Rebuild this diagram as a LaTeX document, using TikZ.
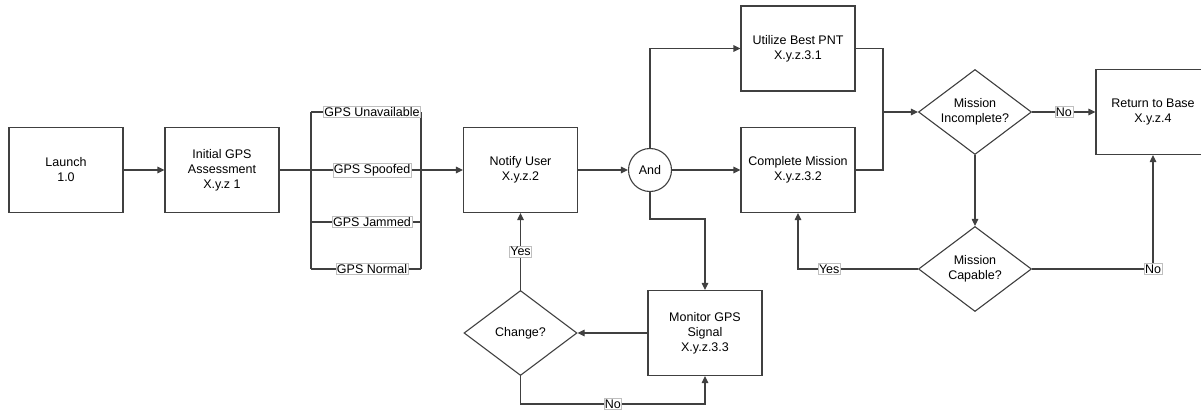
\documentclass[tikz,border=0pt]{standalone}
\usepackage{fontspec}
\setmainfont{Liberation Sans}
\usetikzlibrary{arrows.meta,shapes.geometric}
\begin{document}
\begin{tikzpicture}[x=1pt,y=-1pt,
 font=\fontsize{12.5}{15}\selectfont,
 line/.style={draw=black!75, line width=1.1pt},
 arr/.style={line, -{Triangle[length=7pt,width=6.5pt]}},
 box/.style={line, rectangle, minimum width=114pt, minimum height=85pt, align=center, inner sep=0pt, fill=white},
 dec/.style={line, diamond, minimum width=113pt, minimum height=85pt, aspect=1.33, align=center, inner sep=0pt, fill=white},
 lab/.style={fill=white, draw=black!25, line width=0.5pt, inner sep=1pt}
]
\useasboundingbox (0,0) rectangle (1201,412);
\clip (0,0) rectangle (1201,412);
% nodes
\node[box] (launch) at (66,170) {Launch\\1.0};
\node[box] (init) at (222,170) {Initial GPS\\Assessment\\X.y.z 1};
\node[box] (notify) at (520.5,170) {Notify User\\X.y.z.2};
\node[line, circle, minimum size=43pt, inner sep=0pt, fill=white] (and) at (650,170) {And};
\node[box] (util) at (798,48.5) {Utilize Best PNT\\X.y.z.3.1};
\node[box] (comp) at (798,170) {Complete Mission\\X.y.z.3.2};
\node[dec] (inc) at (975,112) {Mission\\Incomplete?};
\node[box] (rtb) at (1153,112) {Return to Base\\X.y.z.4};
\node[dec] (cap) at (975,269) {Mission\\Capable?};
\node[box] (mon) at (705,333) {Monitor GPS\\Signal\\X.y.z.3.3};
\node[dec] (chg) at (520.5,333) {Change?};
% coordinates
\coordinate (sL) at (311,170);
\coordinate (sR) at (421,170);
\coordinate (uL) at (311,112);
\coordinate (uR) at (421,112);
\coordinate (jL) at (311,222);
\coordinate (jR) at (421,222);
\coordinate (nL) at (311,269);
\coordinate (nR) at (421,269);
\coordinate (mj) at (883,112);
\coordinate (am) at (705,219);
\coordinate (cn) at (705,404);
% connectors
\draw[arr] (launch.east) -- (init.west);
\draw[line] (uL) -- (nL);
\draw[line] (uR) -- (nR);
\draw[line] (uL) -- node[lab, pos=0.555]{GPS Unavailable} (uR);
\draw[line] (jL) -- node[lab, pos=0.555]{GPS Jammed} (jR);
\draw[line] (nL) -- node[lab, pos=0.555]{GPS Normal} (nR);
\draw[arr] (init.east) -- (sL) -- node[lab, pos=0.555]{GPS Spoofed} (sR) -- (notify.west);
\draw[arr] (notify.east) -- (and.west);
\draw[arr] (and.north) |- (util.west);
\draw[arr] (and.east) -- (comp.west);
\draw[line] (util.east) -| (mj);
\draw[line] (comp.east) -| (mj);
\draw[arr] (mj) -- (inc.west);
\draw[arr] (inc.east) -- node[lab]{No} (rtb.west);
\draw[arr] (inc.south) -- (cap.north);
\draw[arr] (cap.west) -| node[lab, pos=0.37]{Yes} (comp.south);
\draw[arr] (cap.east) -| node[lab, pos=0.5]{No} (rtb.south);
\draw[arr] (and.south) |- (am) -- (mon.north);
\draw[arr] (mon.west) -- (chg.east);
\draw[arr] (chg.north) -- node[lab]{Yes} (notify.south);
\draw[arr] (chg.south) |- node[lab, pos=0.75]{No} (cn) -- (mon.south);
\end{tikzpicture}
\end{document}
